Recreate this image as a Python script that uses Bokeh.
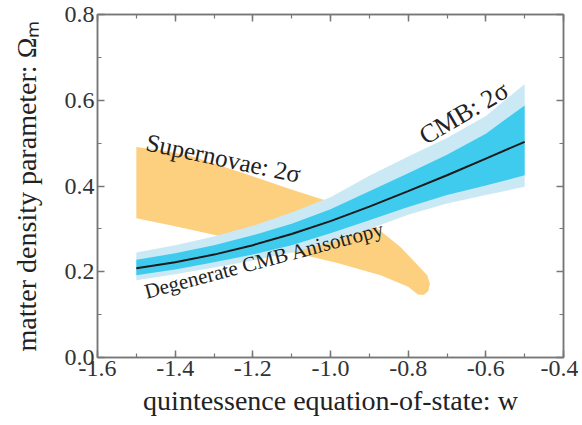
from bokeh.plotting import figure
from bokeh.models import Range1d, SingleIntervalTicker, PrintfTickFormatter, LinearAxis, CustomJSTickFormatter
from bokeh.core.properties import value
from bokeh.embed import file_html
from bokeh.resources import INLINE

# ---- data ----
w_cmb = [-1.5, -1.4, -1.3, -1.2, -1.1, -1.0, -0.9, -0.8, -0.7, -0.6, -0.5]
cmb_light_top = [0.245, 0.262, 0.282, 0.307, 0.338, 0.374, 0.424, 0.469, 0.512, 0.563, 0.638]
cmb_dark_top = [0.228, 0.243, 0.262, 0.285, 0.312, 0.346, 0.388, 0.430, 0.473, 0.522, 0.588]
cmb_center = [0.208, 0.222, 0.240, 0.262, 0.288, 0.318, 0.352, 0.388, 0.425, 0.464, 0.503]
cmb_dark_bot = [0.192, 0.205, 0.222, 0.240, 0.262, 0.290, 0.320, 0.351, 0.379, 0.401, 0.425]
cmb_light_bot = [0.180, 0.194, 0.210, 0.226, 0.245, 0.268, 0.300, 0.333, 0.359, 0.379, 0.398]

# supernova 2-sigma region outline (upper edge left->right, then tip, then lower edge right->left)
sn_w = [-1.5, -1.43, -1.353, -1.224, -1.095, -0.99, -0.905, -0.82, -0.751, -0.744, -0.748, -0.76, -0.775,
        -0.8, -0.871, -0.98, -1.095, -1.2, -1.309, -1.4, -1.5]
sn_om = [0.491, 0.482, 0.468, 0.430, 0.390, 0.360, 0.320, 0.258, 0.192, 0.172, 0.155, 0.146, 0.147,
         0.165, 0.192, 0.220, 0.245, 0.266, 0.288, 0.306, 0.325]

x_ticks_major = 0.2
y_ticks_major = 0.2
labels_text = ["Supernovae: 2σ", "CMB: 2σ", "Degenerate CMB Anisotropy"]
labels_w = [-1.474, -0.766, -1.478]
labels_om = [0.503, 0.512, 0.153]
labels_angle = [-0.21, 0.53, 0.26]
labels_size = ["25px", "26px", "21px"]

FONT = "Liberation Serif"
AXIS_COL = "#777777"

p = figure(width=578, height=424, x_range=Range1d(-1.6, -0.4), y_range=Range1d(0.0, 0.8),
           output_backend="svg", toolbar_location=None, min_border=0)
p.min_border_left = 97
p.min_border_top = 14
p.min_border_right = 15
p.min_border_bottom = 67
p.xgrid.visible = False
p.ygrid.visible = False
p.outline_line_color = AXIS_COL
p.outline_line_width = 1.5
p.background_fill_color = "white"
p.border_fill_color = "white"

# supernova region
p.patch(sn_w, sn_om, fill_color="#FDD07F", line_color=None)

# CMB bands
p.varea(x=w_cmb, y1=cmb_light_bot, y2=cmb_light_top, fill_color="#CBE9F5")
p.varea(x=w_cmb, y1=cmb_dark_bot, y2=cmb_dark_top, fill_color="#3FCBEE")
p.line(w_cmb, cmb_center, line_color="#1a1a1a", line_width=2)

for t, x, y, a, s in zip(labels_text, labels_w, labels_om, labels_angle, labels_size):
    p.text(x=[x], y=[y], text=[t], angle=a, text_font=value(FONT), text_font_size=s,
           text_color="#222222", text_baseline="alphabetic", text_align="left")


def style_axis(ax, show_labels=True):
    ax.axis_line_color = AXIS_COL
    ax.axis_line_width = 1.5
    ax.major_tick_line_color = AXIS_COL
    ax.minor_tick_line_color = AXIS_COL
    ax.major_tick_line_width = 1.5
    ax.minor_tick_line_width = 1.2
    ax.major_tick_in = 7
    ax.major_tick_out = 0
    ax.minor_tick_in = 4
    ax.minor_tick_out = 0
    ax.major_label_text_font = FONT
    ax.major_label_text_color = "#333333"
    ax.major_label_text_font_size = "24px"
    if show_labels:
        ax.major_label_standoff = 3
    else:
        ax.formatter = CustomJSTickFormatter(code="return ''")
        ax.major_label_standoff = 0
    ax.axis_label_text_font = FONT
    ax.axis_label_text_font_style = "normal"
    ax.axis_label_text_color = "#222222"


p.xaxis.ticker = SingleIntervalTicker(interval=x_ticks_major, num_minor_ticks=2)
p.yaxis.ticker = SingleIntervalTicker(interval=y_ticks_major, num_minor_ticks=2)
p.xaxis.formatter = PrintfTickFormatter(format="%.1f")
p.yaxis.formatter = PrintfTickFormatter(format="%.1f")
for ax in p.xaxis + p.yaxis:
    style_axis(ax)
p.xaxis.axis_label = "quintessence equation-of-state: w"
p.xaxis.axis_label_text_font_size = "28px"
p.xaxis.axis_label_standoff = 6
p.yaxis.axis_label = "matter density parameter: Ωₘ"
p.yaxis.axis_label_text_font_size = "28px"
p.yaxis.axis_label_standoff = 20

top = LinearAxis(ticker=SingleIntervalTicker(interval=x_ticks_major, num_minor_ticks=2))
right = LinearAxis(ticker=SingleIntervalTicker(interval=y_ticks_major, num_minor_ticks=2))
style_axis(top, False)
style_axis(right, False)
p.add_layout(top, "above")
p.add_layout(right, "right")

open("out.html", "w").write(file_html(p, INLINE))
